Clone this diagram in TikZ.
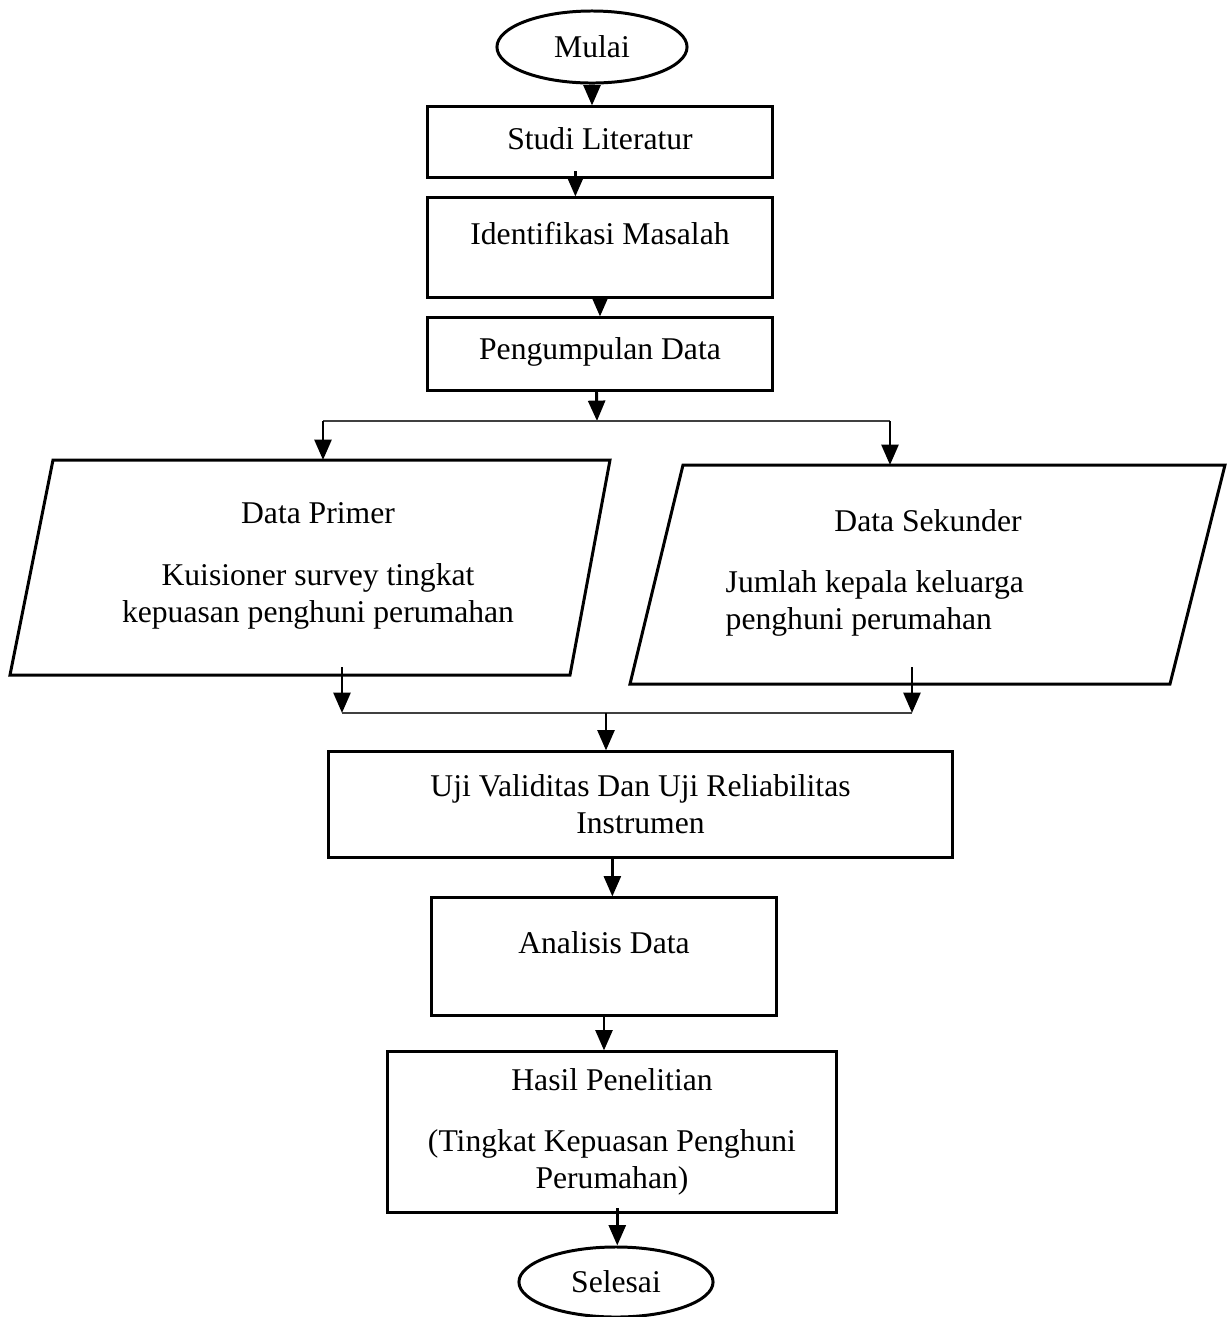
\documentclass[tikz,border=0pt]{standalone}
\usepackage{fontspec}
\setmainfont{Liberation Serif}
\usetikzlibrary{arrows.meta,shapes.geometric}

\tikzset{
  proc/.style={draw, line width=0.85pt, inner sep=0pt, align=center},
  term/.style={draw, ellipse, line width=0.85pt, inner sep=0pt},
  arr/.style={-{Triangle[width=4.8pt,length=5.8pt]}, line width=0.85pt},
  branch/.style={line width=0.45pt, black!75}
}

\begin{document}
\begin{tikzpicture}[x=0.01cm, y=-0.01cm, font=\fontsize{9}{10.5}\selectfont]
    \useasboundingbox (0,0) rectangle (1227,1317);

      % Start and first steps
      \node[term, minimum width=1.9cm, minimum height=0.72cm] (mulai) at (592,47) {Mulai};
      \node[proc, minimum width=3.44cm, minimum height=0.70cm] (studi) at (600,142) {\raisebox{2pt}{Studi Literatur}};
      \node[proc, minimum width=3.44cm, minimum height=0.99cm] (identifikasi) at (600,247.5) {\raisebox{8pt}{Identifikasi Masalah}};
      \node[proc, minimum width=3.44cm, minimum height=0.72cm] (pengumpulan) at (600,354) {\raisebox{3pt}{Pengumpulan Data}};

      \draw[arr] (mulai.south) -- (mulai.south |- studi.north);
      \draw[arr] ([xshift=-7pt,yshift=2pt]studi.south) -- ([xshift=-7pt]identifikasi.north);
      \draw[arr] (identifikasi.south) -- (pengumpulan.north);

      % Split to the two data sources
      \coordinate (split) at (597,421);
      \coordinate (splitL) at (323,421);
      \coordinate (splitR) at (890,421);
      \draw[arr] ([xshift=-1pt]pengumpulan.south) -- (split);
      \draw[branch] (splitL) -- (splitR);

      % Data primer (parallelogram)
      \coordinate (pA) at (53,460);
      \coordinate (pB) at (610,460);
      \coordinate (pC) at (570,675);
      \coordinate (pD) at (10,675);
      \draw[line width=0.85pt] (pA) -- (pB) -- (pC) -- (pD) -- cycle;
      \node[align=center] (primer) at (318,566) {Data Primer\\[7pt]Kuisioner survey tingkat\\kepuasan penghuni perumahan};

      % Data sekunder (parallelogram)
      \coordinate (sA) at (683,465);
      \coordinate (sB) at (1225,465);
      \coordinate (sC) at (1170,684);
      \coordinate (sD) at (630,684);
      \draw[line width=0.85pt] (sA) -- (sB) -- (sC) -- (sD) -- cycle;
      \node (sekunder) at (928,521) {Data Sekunder};
      \node[align=left, anchor=west, inner sep=0pt] (jumlah) at (725,603) {Jumlah kepala keluarga\\penghuni perumahan};

      \draw[arr] (splitL) -- (splitL |- pA);
      \draw[arr] (splitR) -- (splitR |- sA);

      % Merge
      \coordinate (mergeL) at (342,713);
      \coordinate (mergeR) at (912,713);
      \coordinate (merge) at (606,713);
      \draw[arr] (342,667) -- (mergeL);
      \draw[arr] (912,667) -- (mergeR);
      \draw[branch] (mergeL) -- (mergeR);

      % Processing
      \node[proc, minimum width=6.23cm, minimum height=1.05cm] (uji) at (640.5,804.5) {Uji Validitas Dan Uji Reliabilitas\\Instrumen};
      \node[proc, minimum width=3.44cm, minimum height=1.17cm] (analisis) at (604,956.5) {\raisebox{8pt}{Analisis Data}};
      \node[proc, minimum width=4.48cm, minimum height=1.60cm] (hasil) at (612,1132) {Hasil Penelitian\\[7pt](Tingkat Kepuasan Penghuni\\Perumahan)};
      \node[term, minimum width=1.94cm, minimum height=0.70cm] (selesai) at (616,1282) {Selesai};

      \draw[arr] (merge) -- (merge |- uji.north);
      \draw[arr] ([xshift=-8pt]uji.south) -- ([xshift=-8pt]uji.south |- analisis.north);
      \draw[arr] (analisis.south) -- (analisis.south |- hasil.north);
      \draw[arr] ([xshift=1.5pt,yshift=1.5pt]hasil.south) -- ([xshift=1.5pt]hasil.south |- selesai.north);

    \end{tikzpicture}
\end{document}
